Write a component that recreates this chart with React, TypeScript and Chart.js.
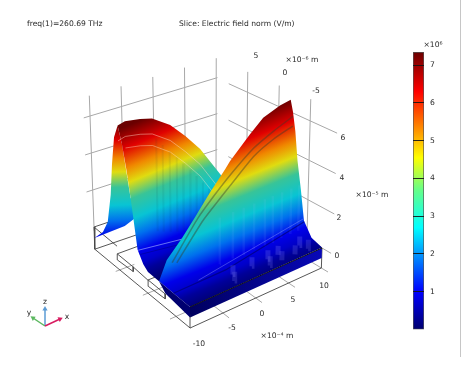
import React, { useEffect, useRef } from "react";
import { Chart, registerables } from "chart.js";
Chart.register(...registerables);

// ---------- values (x: 1e-4 m, y: 1e-6 m, z: 1e-5 m, E: 1e6 V/m)
const xTicks = [-10, -5, 0, 5, 10];
const yTicks = [5, 0, -5];
const zTicks = [2, 4, 6];
const colorbarTicks = [1, 2, 3, 4, 5, 6, 7];
const fieldMax = 7.35;
const title1 = "freq(1)=260.69 THz";
const title2 = "Slice: Electric field norm (V/m)";

// right ridge: crest along x at constant y
const ridgeY = -1.85;
const crestX = [10, 8.4, 5.9, 3.94, 0.94, 0.24, -2.08, -4.4, -6.4, -8.76, -10];
const crestZ = [6.63, 6.53, 6.2, 5.6, 4.6, 4.3, 3.4, 2.45, 1.67, 0.89, 0];
// right ridge: profile in y at x = 10
const edgeY = [-2.25, -2.7, -3.16, -3.83, -4.44, -5.75, -7.5];
const edgeZ = [6.06, 5.13, 3.68, 2.28, 0.85, 0.2, 0.02];
// left lobe crest
const lobeX = [-10, -8.7, -6.96, -5.7, -4.2, -2.96, -0.8, 0.68, 2.1];
const lobeY = [5.1, 5.3, 4.63, 3.96, 2.54, 1.36, 1.25, 0.32, -0.33];
const lobeZ = [6.45, 6.5, 6.55, 6.55, 6.3, 5.8, 4.9, 3.9, 3.0];
// left lobe: profile at x = -10 on the inner side
const innerY = [5.1, 4.4, 3.7, 3.07, 2.5, 2, 1, 0.16];
const innerZ = [6.45, 5.6, 4.4, 3.1, 1.8, 0.7, 0.2, 0];
// left lobe: profile at x = -10 on the outer side
const outerY = [5.1, 5.8, 6.3, 6.7, 7.4, 8.35, 10];
const outerZ = [6.45, 5.7, 4.2, 2.5, 0.9, 0.13, -0.6];
// side bands on the right ridge
const band1X = [9.76, 6.9, 3.9, 0.44, -1.9, -4.5, -8.5];
const band1Z = [5.89, 5.5, 5.0, 4.1, 3.4, 2.55, 0.86];
const band2X = [9.4, 6.56, 3.6, 0.08, -1.46, -4.1, -8.1];
const band2Z = [5.5, 5.2, 4.7, 3.68, 3.23, 2.45, 0.89];
// brighter blocks close to the floor
const patchRow1X = [-1.5, 1.4, 3.84, 5.4, 8.7];
const patchRow2X = [-2.2, 3.2, 5, 7, 9];
// faint streaks on the flanks
const streakRightX = [-3, -1, 0.6, 2.2, 3.8, 5, 6.4, 7.8, 9];
const streakLeftX = [-5.6, -5, -4.3, -3.6, -3, -2.3, -1.7, -1.1, -0.5];

// ---------- colour maps: the legend, and the same map as lit on the surface
const cmapE = [0, 1.0, 1.85, 2.7, 3.7, 4.55, 5.3, 6.3, 7.35];
const cmapC = ["#00006e", "#0000ff", "#0080ff", "#00ffff", "#66ff88", "#ffff00", "#ff9000", "#ff0000", "#6a0000"];
const litE = [-1, 0, 0.4, 1, 1.85, 2.7, 3.7, 4.55, 5.3, 6.3, 7.35];
const litC = ["#00005a", "#00009a", "#0000c8", "#0000ea", "#0070ee", "#08c4d4", "#38c498", "#e0dc10", "#f08800", "#e00000", "#6a0000"];

// ---------- view of the 3-D box
type P3 = [number, number, number];
const yMin = -7.5, yMax = 10;
const project = ([x, y, z]: P3) => {
  const s = (x + 10) / 20, t = (y - yMin) / (yMax - yMin);
  const X0 = 190 + 132 * s - 96 * t - 10 * s * t;
  const Y0 = 307 - 59 * s - 80 * t + 18 * s * t;
  const k = 21 - 1 * s - 2.5 * t + 0.5 * s * t;
  return { x: X0 + (X0 - 210) * 0.0057 * z, y: Y0 - k * z };
};

const zip3 = (xs: number[] | number, ys: number[] | number, zs: number[]): P3[] =>
  zs.map((z, i) => [Array.isArray(xs) ? xs[i] : xs, Array.isArray(ys) ? ys[i] : ys, z] as P3);

function levelGradient(anchor: P3, pxPerE: number, flat = false) {
  return (c: any) => {
    const chart = c.chart;
    const sx = chart.scales.x, sy = chart.scales.y;
    if (!sx || !sy) return "#000";
    const a = project(anchor);
    const ax = sx.getPixelForValue(a.x), ay = sy.getPixelForValue(a.y);
    if (!Number.isFinite(ax) || !Number.isFinite(ay)) return "#000";
    const m = flat ? -0.05 : -0.41;
    const h = Math.hypot(m, 1);
    const nx = -m / h, ny = 1 / h;
    const span = fieldMax - litE[0];
    const d = span * pxPerE * ny;
    const g = chart.ctx.createLinearGradient(ax, ay, ax + nx * d, ay + ny * d);
    litE.forEach((e, i) => g.addColorStop((fieldMax - e) / span, litC[i]));
    return g;
  };
}

function slabGradient(c: any) {
  const sx = c.chart.scales.x;
  const a = sx && sx.getPixelForValue(project([-10, -7.5, 0]).x);
  const b = sx && sx.getPixelForValue(project([10, -7.5, 0]).x);
  if (!Number.isFinite(a) || !Number.isFinite(b)) return "#00006a";
  const g = c.chart.ctx.createLinearGradient(a, 0, b, 0);
  g.addColorStop(0, "#00005e");
  g.addColorStop(1, "#0808b8");
  return g;
}

function buildDatasets() {
  const out: any[] = [];
  const line = (pts: P3[], color: string, width = 1, extra: any = {}) =>
    out.push({ data: pts.map(project), showLine: true, borderColor: color, borderWidth: width, pointRadius: 0, fill: false, tension: 0, ...extra });
  const poly = (pts: P3[], bg: any) =>
    out.push({ data: pts.map(project), showLine: true, borderWidth: 0, borderColor: "transparent", pointRadius: 0, fill: "shape", backgroundColor: bg, tension: 0 });

  const gridC = "#a8a8a8", wire = "#444444";
  // walls
  zTicks.forEach((z) => {
    line([[-11, yMax, z], [10.2, yMax, z]], gridC, 1);
    line([[10, 8, z], [10, -9.3, z]], gridC, 1);
  });
  xTicks.forEach((x) => line([[x, yMax, -0.2], [x, yMax, 7.1]], gridC, 1));
  yTicks.forEach((y) => line([[10, y, 0], [10, y, 7.1]], gridC, 1));
  line([[10, -7.5, 0], [10, -9, 0]], gridC, 1);
  // floor ticks
  xTicks.slice(1).forEach((x) => line([[x, -5, -1], [x, -8.6, -1]], gridC, 1));
  yTicks.forEach((y) => line([[-8, y, -1], [-11, y, -1]], gridC, 1));

  // wire frame of the sample
  line([[-10, -7.5, -1], [10, -7.5, -1]], wire, 0.9);
  line([[-10, -7.5, -1], [-10, yMax, -1.2]], wire, 0.9);
  line([[-10, yMax, 0], [-10, yMax, -1.2]], wire, 0.9);
  line([[-10, -7.5, -1], [-10, -7.5, 0]], wire, 0.9);
  line([[10, -7.5, -1], [10, -7.5, 0]], wire, 0.9);
  line([[10, -7.5, 0], [10, -5, 0]], wire, 0.9);
  line([[-10, yMax, 0], [0, yMax, 0]], wire, 0.9);
  line([[-10, yMax, -1.2], [-1, yMax, -1.2]], wire, 0.9);
  line([[-10, yMax, 0], [-10, 5.8, 0]], wire, 0.9);
  [[5.8, 2.9], [0.16, -2.95]].forEach(([a, b]) => {
    line([[-10, a, -0.4], [-10, b, -0.38], [-10, b, -0.62], [-10, a, -0.72], [-10, a, -0.4]], wire, 0.9);
    line([[-10, a, -0.4], [-5, a, -0.4]], wire, 0.9);
  });
  line([[-10, 2.9, -0.38], [-10, 0.16, -0.42]], wire, 0.9);

  // left lobe
  const flapBase: P3[] = [[-5, yMax, -0.5], [-3.5, 6, 1.5], [-10, 3.07, 3.1], [-10, 4.4, 5.6]];
  poly([...zip3(-10, outerY, outerZ), ...flapBase], levelGradient([-8.7, 5.3, 6.5], 18, true));
  const lobeCrest = zip3(lobeX, lobeY, lobeZ);
  poly([...lobeCrest, [2.1, -0.33, 0], [-3, ridgeY, 0], [-10, ridgeY, 0], ...zip3(-10, innerY, innerZ).reverse()], levelGradient([-6, 4.3, 6.6], 20.5));
  streakLeftX.forEach((x, i) => {
    const y = 3.4 - i * 0.42;
    line([[x, y, 5.6 - i * 0.32], [x, y, 0.8]], "rgba(0,40,60,0.07)", 2);
  });
  // highlights on the left lobe
  line(zip3(lobeX, lobeY, lobeZ.map((z) => z - 0.8)), "rgba(255,220,200,0.45)", 1);
  line(zip3(lobeX.slice(1), lobeY.slice(1), lobeZ.slice(1).map((z) => z - 1.4)), "rgba(255,230,200,0.4)", 1);
  line([[-10, 1.9, 0.7], [-3, 1.9, 0.4]], "rgba(170,190,255,0.6)", 1);
  line([[-10, 1.6, 0.55], [-3, 1.6, 0.25]], "rgba(0,0,120,0.5)", 0.9);

  // right ridge
  poly([...zip3(crestX, ridgeY, crestZ).reverse(), ...zip3(10, edgeY, edgeZ), [-10, -7.5, 0]], levelGradient([10, ridgeY, 6.63], 21));
  streakRightX.forEach((x) => line([[x, -4.6, 0.5], [x, -4.6, 2.8]], "rgba(170,210,255,0.08)", 2.5));
  line(zip3(band1X, -2.5, band1Z), "rgba(55,60,40,0.42)", 1.5, { tension: 0.2 });
  line(zip3(band2X, -2.9, band2Z), "rgba(55,60,40,0.42)", 1.5, { tension: 0.2 });
  line([[-10, -4.5, 0], [-2, -4.5, 0.05], [10, -4.5, 0.8]], "rgba(0,0,110,0.65)", 1.2);
  line([[-6, -4.3, 0.05], [10, -4.3, 0.9]], "rgba(190,200,255,0.4)", 0.8);

  // blocks near the floor, then the front slab
  patchRow1X.forEach((x) => line([[x, -5.2, -0.1], [x, -5.2, 0.35]], "rgba(140,140,255,0.22)", 5));
  patchRow2X.forEach((x) => line([[x, -6.3, -0.1], [x, -6.3, 0.35]], "rgba(140,140,255,0.2)", 5));
  poly([[-10, -7.5, -0.5], [10, -7.5, -0.5], [10, -7.5, 0], [-10, -7.5, 0]], slabGradient);
  poly([[-10, -7.5, -0.5], [-10, -7.5, 0], [-10, -1.85, 0], [-10, -3, -0.35]], "#000070");
  line([[-10, -7.5, 0], [10, -7.5, 0]], "#101018", 1);

  // orientation triad (view units)
  const arrow = (x1: number, y1: number, color: string, rot: number) =>
    out.push({ data: [{ x: 45, y: 326 }, { x: x1, y: y1 }], showLine: true, borderColor: color, borderWidth: 1.5, pointStyle: "triangle", pointRadius: [0, 3], pointRotation: rot, pointBorderWidth: 0, pointBackgroundColor: color });
  arrow(45, 309, "#5b9bd5", 0);
  arrow(33, 318, "#5cb860", -57);
  arrow(60, 319, "#d81b60", 65);
  const n = out.length;
  out.forEach((d, i) => (d.order = n - i));
  return out;
}

const FONT = "DejaVu Sans";
const texts: [string, number, number, string?][] = [
  [title1, 27, 24, "left"],
  [title2, 179, 24, "left"],
  ["-10", 199, 344], ["-5", 232, 328], ["0", 262, 314], ["5", 293, 300], ["10", 324, 286],
  ["×10⁻⁴ m", 277, 336],
  [String(yTicks[0]), 256, 56], [String(yTicks[1]), 285, 73], [String(yTicks[2]), 316, 91],
  ["×10⁻⁶ m", 302, 60],
  ["0", 337, 256], [String(zTicks[0]), 339, 218], [String(zTicks[1]), 342, 178], [String(zTicks[2]), 343, 138],
  ["×10⁻⁵ m", 372, 195],
  ["×10⁶", 433, 45],
  ["z", 45, 302], ["y", 29, 313], ["x", 67, 317],
];

const labelPlugin = {
  id: "labels3d",
  afterDraw(chart: any) {
    const { ctx, scales } = chart;
    ctx.save();
    ctx.font = `7.6px "${FONT}"`;
    ctx.fillStyle = "#2a2a2a";
    ctx.textBaseline = "middle";
    texts.forEach(([t, x, y, a]) => {
      ctx.textAlign = a || "center";
      ctx.fillText(t, scales.x.getPixelForValue(x), scales.y.getPixelForValue(y));
    });
    ctx.restore();
  },
};

export default function App() {
  const mainRef = useRef<HTMLCanvasElement>(null);
  const barRef = useRef<HTMLCanvasElement>(null);
  useEffect(() => {
    const main = new Chart(mainRef.current!, {
      type: "scatter",
      data: { datasets: buildDatasets() },
      plugins: [labelPlugin],
      options: {
        animation: false, responsive: false, events: [],
        layout: { padding: 0, autoPadding: false },
        plugins: { legend: { display: false }, tooltip: { enabled: false } },
        scales: {
          x: { type: "linear", min: 0, max: 476, display: false },
          y: { type: "linear", min: 0, max: 367, reverse: true, display: false },
        },
      },
    } as any);
    main.update();
    const bar = new Chart(barRef.current!, {
      type: "bar",
      data: {
        labels: ["E"],
        datasets: [{
          data: [[0, fieldMax]],
          barPercentage: 1, categoryPercentage: 1,
          borderColor: "#555", borderWidth: 1, borderSkipped: false,
          backgroundColor: (c: any) => {
            const { chartArea, ctx } = c.chart;
            if (!chartArea || !Number.isFinite(chartArea.bottom)) return "#000";
            const g = ctx.createLinearGradient(0, chartArea.bottom, 0, chartArea.top);
            cmapE.forEach((e, i) => g.addColorStop(e / fieldMax, cmapC[i]));
            return g;
          },
        }],
      },
      options: {
        animation: false, responsive: false, events: [],
        layout: { padding: { left: 13, top: 12, bottom: 9, right: 0 }, autoPadding: false },
        plugins: { legend: { display: false }, tooltip: { enabled: false } },
        scales: {
          x: { display: false },
          y: {
            position: "right", min: 0, max: fieldMax,
            afterFit: (s: any) => { s.width = 36; },
            afterBuildTicks: (s: any) => { s.ticks = colorbarTicks.map((value) => ({ value })); },
            border: { display: false },
            grid: { drawTicks: false, color: "rgba(20,20,20,0.9)", tickBorderDash: [2, 7], z: 1, lineWidth: 1 },
            ticks: { padding: 6, color: "#2a2a2a", font: { family: FONT, size: 7.6 } },
          },
        },
      },
    } as any);
    bar.update();
    return () => { main.destroy(); bar.destroy(); };
  }, []);
  const soft = { filter: "blur(0.45px)" };
  return (
    <div>
      <canvas ref={mainRef} width={476} height={367} style={{ position: "absolute", left: 0, top: 0, width: 476, height: 367, ...soft }} />
      <canvas ref={barRef} width={60} height={300} style={{ position: "absolute", left: 400, top: 40, width: 60, height: 300, ...soft }} />
      <div style={{ position: "absolute", left: 460, top: 0, width: 1, height: 357, background: "#c6c6c6" }} />
    </div>
  );
}
